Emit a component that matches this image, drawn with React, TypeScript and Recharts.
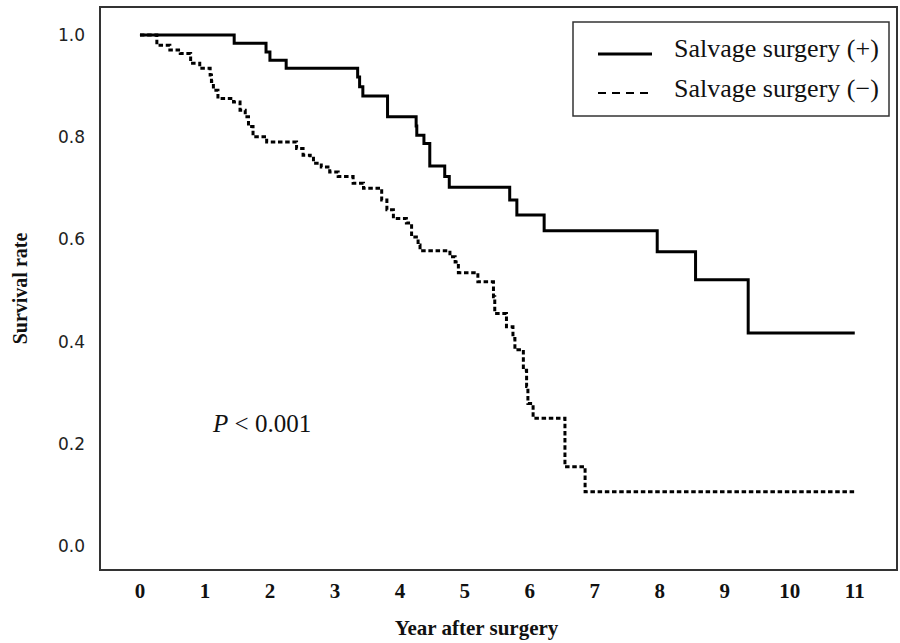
import React from 'react';
import { LineChart, Line, XAxis, YAxis, ReferenceArea } from 'recharts';

// Salvage surgery (+): step times (years) and survival
const plusYears = [0, 1.45, 1.94, 2.0, 2.25, 3.35, 3.38, 3.43, 3.81, 4.25, 4.26, 4.37, 4.46, 4.69, 4.76, 5.69, 5.8, 6.22, 7.96, 8.55, 9.36, 11.0];
const plusSurvival = [1.0, 0.984, 0.967, 0.951, 0.935, 0.918, 0.899, 0.881, 0.84, 0.822, 0.804, 0.788, 0.744, 0.723, 0.702, 0.677, 0.648, 0.617, 0.576, 0.521, 0.417, 0.417];

// Salvage surgery (−)
const minusYears = [0, 0.26, 0.46, 0.62, 0.78, 0.92, 1.08, 1.1, 1.13, 1.2, 1.44, 1.54, 1.62, 1.67, 1.74, 1.95, 2.41, 2.51, 2.62, 2.67, 2.79, 2.92, 3.05, 3.28, 3.44, 3.72, 3.8, 3.9, 4.1, 4.18, 4.28, 4.31, 4.77, 4.85, 4.9, 5.2, 5.44, 5.46, 5.64, 5.74, 5.77, 5.9, 5.95, 5.97, 6.05, 6.54, 6.85, 11.0];
const minusSurvival = [1.0, 0.98, 0.971, 0.964, 0.945, 0.935, 0.922, 0.909, 0.892, 0.876, 0.869, 0.853, 0.84, 0.821, 0.801, 0.791, 0.778, 0.765, 0.759, 0.749, 0.742, 0.732, 0.723, 0.71, 0.7, 0.677, 0.658, 0.641, 0.632, 0.605, 0.589, 0.578, 0.566, 0.556, 0.535, 0.517, 0.488, 0.455, 0.429, 0.406, 0.384, 0.344, 0.312, 0.279, 0.25, 0.155, 0.106, 0.106];

const seriesNames = ['Salvage surgery (+)', 'Salvage surgery (\u2212)'];
const xTicks = [0, 1, 2, 3, 4, 5, 6, 7, 8, 9, 10, 11];
const yTicks = [0, 0.2, 0.4, 0.6, 0.8, 1.0];
const xTitle = 'Year after surgery';
const yTitle = 'Survival rate';
const pText = '0.001';

const X_DOMAIN: [number, number] = [-0.615, 11.65];
const Y_DOMAIN: [number, number] = [-0.047, 1.055];

const plusData = plusYears.map((t, i) => ({ t, s: plusSurvival[i] }));
const minusData = minusYears.map((t, i) => ({ t, s: minusSurvival[i] }));

const serif = '"Liberation Serif", "Times New Roman", serif';

const YTitle = ({ viewBox }: any) => {
  const x = viewBox.x + 20;
  const y = viewBox.y + viewBox.height / 2;
  return (
    <text x={x} y={y} transform={`rotate(-90, ${x}, ${y})`} textAnchor="middle" dominantBaseline="central"
      style={{ fontFamily: serif, fontWeight: 700, fontSize: 20, fill: '#111' }}>
      {yTitle}
    </text>
  );
};

const XTitle = ({ viewBox }: any) => {
  const x = viewBox.x + viewBox.width / 2 - 22;
  return (
    <text x={x} y={635} textAnchor="middle"
      style={{ fontFamily: serif, fontWeight: 700, fontSize: 21, fill: '#111' }}>
      {xTitle}
    </text>
  );
};

export default function App() {
  return (
    <div style={{ position: 'absolute', left: 0, top: 0, width: 900, height: 643, background: '#fff' }}>
      <LineChart width={900} height={643} margin={{ top: 7, right: 3, bottom: 0, left: 0 }}>
        <XAxis
          type="number"
          dataKey="t"
          domain={X_DOMAIN}
          ticks={xTicks}
          allowDataOverflow
          height={73}
          tickLine={false}
          axisLine={false}
          tickSize={0}
          tickMargin={13}
          tick={{ fontFamily: serif, fontWeight: 700, fontSize: 21, fill: '#111' }}
          label={<XTitle />}
        />
        <YAxis
          type="number"
          domain={Y_DOMAIN}
          ticks={yTicks}
          allowDataOverflow
          width={100}
          tickLine={false}
          axisLine={false}
          tickSize={0}
          tickMargin={15}
          tickFormatter={(v: number) => v.toFixed(1)}
          tick={{ fontFamily: '"DejaVu Sans", sans-serif', fontSize: 17, fill: '#222' }}
          label={<YTitle />}
        />
        <ReferenceArea x1={X_DOMAIN[0]} x2={X_DOMAIN[1]} y1={Y_DOMAIN[0]} y2={Y_DOMAIN[1]}
          fill="none" fillOpacity={0} stroke="#333" strokeWidth={2} />
        <Line data={minusData} dataKey="s" name={seriesNames[1]} type="stepAfter" stroke="#000"
          strokeWidth={3} strokeDasharray="4.5 2.7" dot={false} isAnimationActive={false} />
        <Line data={plusData} dataKey="s" name={seriesNames[0]} type="stepAfter" stroke="#000"
          strokeWidth={3} dot={false} isAnimationActive={false} />
      </LineChart>
      <svg width={900} height={643} style={{ position: 'absolute', left: 0, top: 0, pointerEvents: 'none' }}>
        <rect x={573} y={22} width={316} height={94} fill="#fff" stroke="#333" strokeWidth={1.5} />
        <line x1={598} y1={54} x2={652} y2={54} stroke="#000" strokeWidth={3} />
        <line x1={598} y1={93} x2={652} y2={93} stroke="#000" strokeWidth={2} strokeDasharray="8 6" />
        <text x={674} y={57} style={{ fontFamily: serif, fontSize: 26, fill: '#111' }}>{seriesNames[0]}</text>
        <text x={674} y={97} style={{ fontFamily: serif, fontSize: 26, fill: '#111' }}>{seriesNames[1]}</text>
        <text x={213} y={432} style={{ fontFamily: serif, fontSize: 25, fill: '#111' }}>
          <tspan fontStyle="italic">P</tspan> {'< '}{pText}
        </text>
      </svg>
    </div>
  );
}
